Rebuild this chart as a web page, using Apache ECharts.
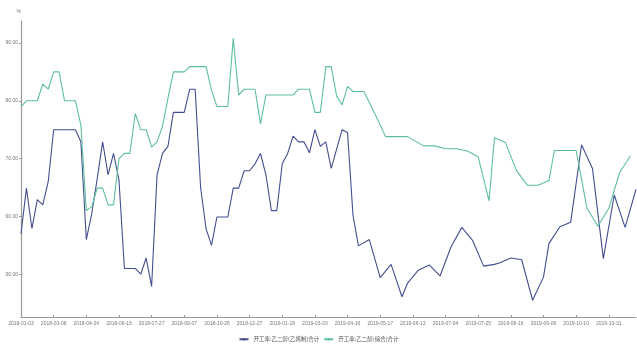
<!DOCTYPE html>
<html>
<head>
<meta charset="utf-8">
<script src="https://cdn.jsdelivr.net/npm/echarts@6/dist/echarts.min.js"></script>
<style>
  html, body { margin: 0; padding: 0; background: #fff; }
  #chart { width: 637px; height: 351px; }
</style>
</head>
<body>
<div id="chart"></div>
<script>
// Dates shown on the category axis, one every sixth observation
const labelDates = [
  '2018-01-03', '2018-03-08', '2018-04-24', '2018-06-15', '2018-07-27',
  '2018-09-07', '2018-10-26', '2018-12-27', '2019-01-18', '2019-03-20',
  '2019-04-16', '2019-05-17', '2019-06-13', '2019-07-04', '2019-07-25',
  '2019-08-16', '2019-09-06', '2019-10-10', '2019-10-31'
];
const labelStep = 6;
const totalPoints = 114;

const yTicks = [50, 60, 70, 80, 90];

const seriesNames = ['开工率:乙二醇(乙烯制)合计', '开工率:乙二醇(综合)合计'];

// Operating rate, ethylene route (%)
const rateEthylene = [
  57.0, 64.9, 57.9, 62.9, 62.0, 66.0, 75.0, 75.0, 75.0, 75.0,
  75.0, 72.9, 56.0, 60.5, 66.5, 72.9, 67.2, 70.9, 66.3, 51.0,
  51.0, 51.0, 50.0, 52.8, 47.9, 67.2, 70.9, 72.1, 78.0, 78.0,
  78.0, 82.0, 82.0, 65.0, 57.9, 55.0, 59.9, 59.9, 59.9, 64.9,
  64.9, 67.9, 67.9, 69.1, 70.9, 67.2, 61.0, 61.0, 69.1, 70.9,
  73.9, 72.9, 72.9, 71.0, 75.0, 72.1, 72.9, 68.3, null, 75.0,
  74.5, 60.2, 54.9, null, 56.0, null, 49.4, null, 51.7, null,
  46.1, 48.4, null, 50.7, null, 51.6, null, 49.7, null, 54.7,
  null, 58.1, null, 55.8, null, 51.4, null, 51.7, 52.0, null,
  52.8, null, 52.5, null, 45.5, null, 49.5, 55.3, null, 58.2,
  null, 59.0, null, 72.4, null, 68.3, null, 52.7, null, 63.7,
  null, 58.1, null, 64.7
];

// Operating rate, all routes combined (%)
const rateTotal = [
  79.0, 80.0, 80.0, 80.0, 82.9, 82.0, 85.0, 85.0, 80.0, 80.0,
  80.0, 75.8, 61.0, 61.7, 64.9, 64.9, 62.0, 62.0, 70.0, 70.9,
  70.9, 77.8, 75.0, 75.0, 72.0, 72.9, 75.6, 80.4, 85.0, 85.0,
  85.0, 85.9, 85.9, 85.9, 85.9, 81.9, 79.0, 79.0, 79.0, 90.8,
  81.0, 82.0, 82.0, 82.0, 76.0, 81.0, 81.0, 81.0, 81.0, 81.0,
  81.0, 82.0, 82.0, 82.0, 78.0, 78.0, 85.9, 85.9, 80.8, 79.3,
  82.5, 81.6, 81.6, 81.6, null, 77.8, null, 73.8, 73.8, 73.8,
  73.8, 73.8, null, null, 72.2, 72.2, 72.2, null, 71.7, 71.7,
  71.7, null, 71.3, null, 70.3, null, 62.7, 73.6, null, 72.8,
  null, 68.0, null, 65.4, 65.4, 65.4, null, 66.2, 71.4, 71.4,
  71.4, 71.4, 71.4, null, 61.4, null, 58.3, null, 61.4, null,
  67.6, null, 70.5, null
];

// Build the full list of observation dates between the labelled ones
function buildCategories() {
  const day = 86400000;
  const toTime = s => Date.UTC(+s.slice(0, 4), +s.slice(5, 7) - 1, +s.slice(8, 10));
  const fmt = t => new Date(t).toISOString().slice(0, 10);
  const out = [];
  for (let a = 0; a < labelDates.length - 1; a++) {
    const t0 = toTime(labelDates[a]);
    const t1 = toTime(labelDates[a + 1]);
    const gap = (t1 - t0) / day;
    for (let k = 0; k < labelStep; k++) {
      out.push(fmt(t0 + Math.round(k * gap / labelStep) * day));
    }
  }
  let t = toTime(labelDates[labelDates.length - 1]);
  out.push(fmt(t));
  let step = 0;
  while (out.length < totalPoints) {
    t += (step++ % 2 === 0 ? 4 : 3) * day;
    out.push(fmt(t));
  }
  return out;
}
const categories = buildCategories();

const baseFont = 'Arial, "Liberation Sans", "Noto Sans CJK SC", sans-serif';

const chart = echarts.init(document.getElementById('chart'), null, { renderer: 'canvas' });
chart.setOption({
  animation: false,
  backgroundColor: '#ffffff',
  textStyle: { fontFamily: baseFont },
  color: ['#434e8f', '#5cbf9f'],
  grid: { left: 21, right: 1, top: 21, bottom: 34, containLabel: false },
  legend: {
    bottom: 4,
    left: 'center',
    itemWidth: 9,
    itemHeight: 3,
    itemGap: 4,
    textStyle: { fontSize: 5.5, color: '#555', fontFamily: '"Noto Sans CJK SC", sans-serif' },
    data: seriesNames
  },
  xAxis: {
    type: 'category',
    data: categories,
    boundaryGap: false,
    axisLine: { lineStyle: { color: '#9a9a9a', width: 1.2 } },
    axisTick: { show: true, inside: true, length: 2, interval: labelStep - 1, lineStyle: { color: '#9a9a9a' } },
    axisLabel: { interval: labelStep - 1, fontSize: 5, color: '#777', margin: 4 },
    splitLine: { show: false }
  },
  yAxis: {
    type: 'value',
    name: '%',
    nameLocation: 'end',
    nameGap: 7,
    nameTextStyle: { fontSize: 5, color: '#777', align: 'right', padding: [0, 0, 0, 0] },
    min: 42.6,
    max: 93.8,
    axisLine: { show: true, lineStyle: { color: '#9a9a9a', width: 1.2 } },
    axisTick: { show: true, length: 2, customValues: yTicks, lineStyle: { color: '#9a9a9a' } },
    axisLabel: {
      customValues: yTicks,
      fontSize: 5, color: '#777', margin: 3,
      formatter: v => v.toFixed(2)
    },
    splitLine: { show: false }
  },
  series: [
    {
      name: seriesNames[0],
      type: 'line',
      data: rateEthylene,
      symbol: 'none',
      connectNulls: true,
      lineStyle: { width: 1.1 }
    },
    {
      name: seriesNames[1],
      type: 'line',
      data: rateTotal,
      symbol: 'none',
      connectNulls: true,
      lineStyle: { width: 1.1 }
    }
  ]
});
</script>
</body>
</html>
